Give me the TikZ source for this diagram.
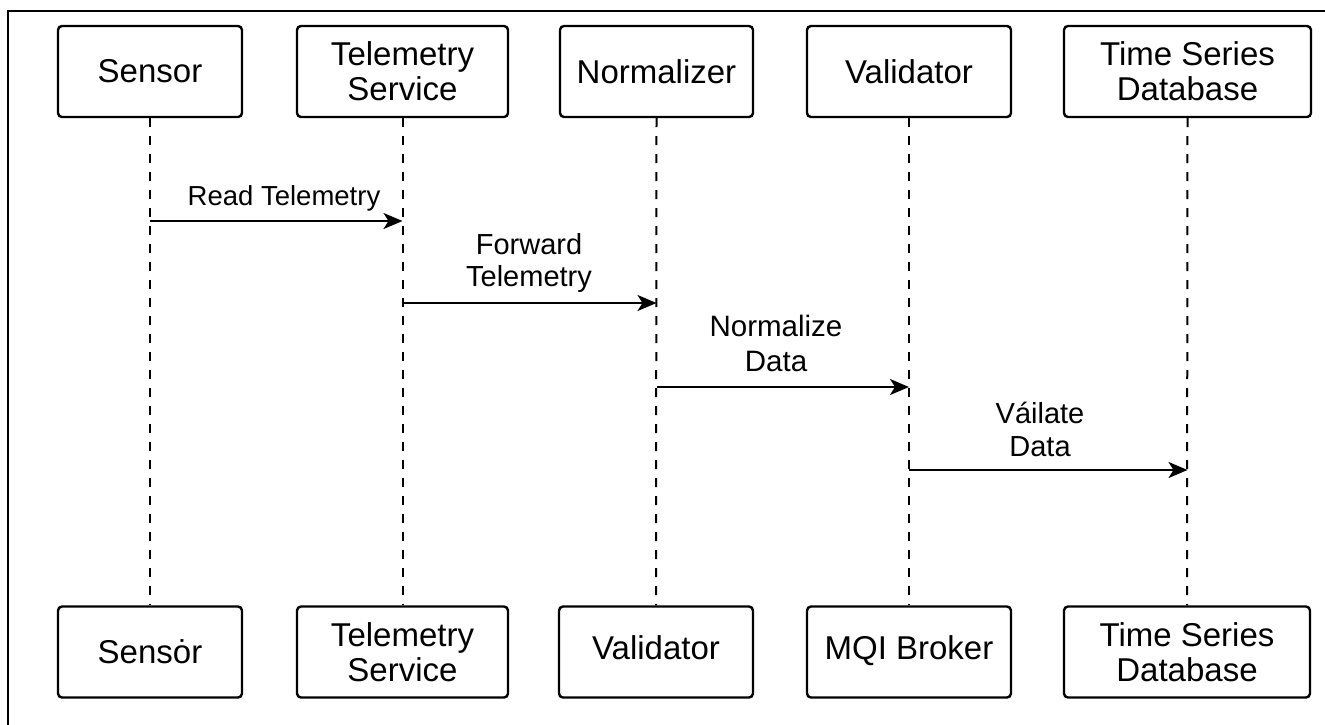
\documentclass[tikz,border=0pt]{standalone}
\usepackage{fontspec}
\setmainfont{Liberation Sans}
\usetikzlibrary{arrows.meta}
\begin{document}
\begin{tikzpicture}[x=1pt,y=-1pt,
  actor/.style={draw, line width=2.4pt, rounded corners=4pt, inner sep=0pt,
    minimum height=91pt, align=center,
    font=\fontsize{33}{35}\selectfont},
  lifeline/.style={line width=2pt, dash pattern=on 9pt off 9pt},
  msg/.style={line width=2.1pt, -{Stealth[length=19pt,width=16pt,inset=5pt]}},
  msglabel/.style={anchor=base, align=center, inner sep=0pt,
    font=\fontsize{29}{32}\selectfont},
  frame/.style={line width=2.2pt}]
\useasboundingbox (0,0) rectangle (1325,724);
\clip (0,0) rectangle (1325,724);
\draw[frame] (8,11) rectangle (1345,745);

% participants, top row
\node[actor, minimum width=184pt] (s1) at (150,71.5) {Sensor};
\node[actor, minimum width=211pt] (t1) at (402.5,71.5) {Telemetry\\Service};
\node[actor, minimum width=193pt] (n1) at (656.5,71.5) {Normalizer};
\node[actor, minimum width=204pt] (v1) at (909,71.5) {Validator};
\node[actor, minimum width=247pt] (d1) at (1187.5,71.5) {Time Series\\Database};

% participants, bottom row
\node[actor, minimum width=184pt] (s2) at (150,652) {Sensȯr};
\node[actor, minimum width=211pt] (t2) at (402.5,652) {Telemetry\\Service};
\node[actor, minimum width=194pt] (n2) at (656,652) {Validator\strut};
\node[actor, minimum width=204pt] (v2) at (909,652) {MQI Broker\strut};
\node[actor, minimum width=246pt] (d2) at (1187,652) {Time Series\\Database};

% lifelines
\draw[lifeline] (s1.south) -- (s2.north);
\draw[lifeline] (t1.south) -- (t2.north);
\draw[lifeline] (n1.south) -- (n2.north);
\draw[lifeline] (v1.south) -- (v2.north);
\draw[lifeline] (d1.south) -- (d2.north);

% message levels
\coordinate (y1) at (0,221);
\coordinate (y2) at (0,303);
\coordinate (y3) at (0,387);
\coordinate (y4) at (0,470);

% messages (label anchors sit on the last text line)
\draw[msg] (s1.south |- y1) -- (t1.south |- y1);
\node[msglabel, font=\fontsize{27.5}{32}\selectfont] (l1) at (284,205) {Read Telemetry};

\draw[msg] (t1.south |- y2) -- (n1.south |- y2);
\node[msglabel] (l2) at (529,286) {Forward\\Telemetry};

\draw[msg] (n1.south |- y3) -- (v1.south |- y3);
\node[msglabel, font=\fontsize{29.5}{35}\selectfont] (l3) at (776,371) {Normalize\\Data};

\draw[msg] (v1.south |- y4) -- (d1.south |- y4);
\node[msglabel, font=\fontsize{29}{33}\selectfont] (l4) at (1040,456) {Váilate\\Data};
\end{tikzpicture}
\end{document}
